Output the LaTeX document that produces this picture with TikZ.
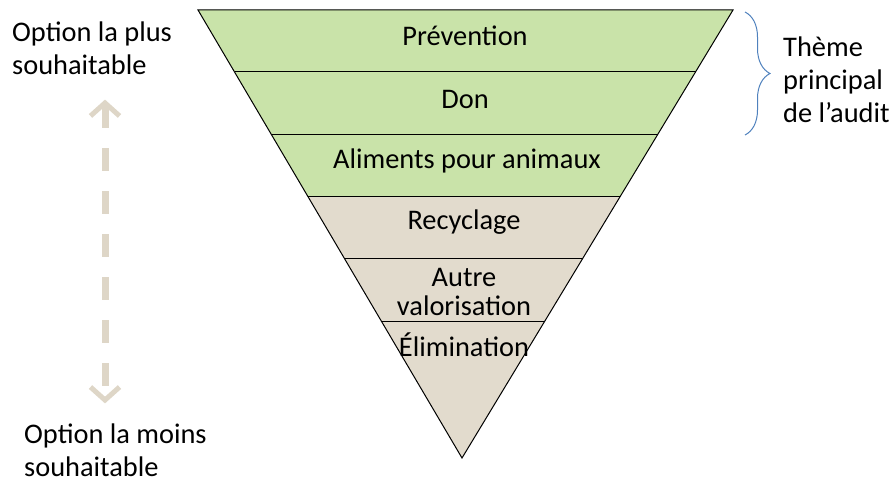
\documentclass[tikz,border=0pt]{standalone}
\usepackage{fontspec}
\setmainfont{Carlito}
\usetikzlibrary{arrows.meta,calc,decorations.pathreplacing}
\definecolor{topgreen}{HTML}{C9E3A9}
\definecolor{lowtan}{HTML}{E2DBCD}
\definecolor{arrtan}{HTML}{DED6C7}
\definecolor{braceblue}{HTML}{4F81BD}
\tikzset{
  lvl/.style={font=\fontsize{28.5}{30}\selectfont,align=center,inner sep=0pt},
  side/.style={font=\fontsize{28.5}{33}\selectfont,align=left,inner sep=0pt},
  rim/.style={draw=black,line width=1bp,line join=miter},
  pref/.style={draw=arrtan,line width=7bp,dash pattern=on 23bp off 20bp,
    {Straight Barb[length=13bp,width=29bp,line width=5bp]}-{Straight Barb[length=13bp,width=29bp,line width=5bp]}},
  brc/.style={draw=braceblue,line width=1bp,decorate,decoration={brace,amplitude=25bp}},
}

\begin{document}
\begin{tikzpicture}[x=1bp,y=-1bp]
  \useasboundingbox (0,0) rectangle (896,485);
  % inverted pyramid
  \coordinate (tl) at (198,10);
  \coordinate (tr) at (733,10);
  \coordinate (apex) at (462,458);
  \foreach \k/\t in {1/0.1384,2/0.2768,3/0.4174,4/0.5536,5/0.6942} {
    \coordinate (l\k) at ($(tl)!\t!(apex)$);
    \coordinate (r\k) at ($(tr)!\t!(apex)$);
  }
  \fill[topgreen] (tl)--(tr)--(r3)--(l3)--cycle;
  \fill[lowtan] (l3)--(r3)--(apex)--cycle;
  \foreach \k in {1,...,5} \draw[rim] (l\k)--(r\k);
  \draw[rim] (tl)--(tr)--(apex)--cycle;

  \node[lvl] (prev) at (465,36) {Prévention};
  \node[lvl] (don) at (465,99) {Don};
  \node[lvl] (alim) at (467,161) {Aliments pour animaux};
  \node[lvl] (recy) at (464,222) {Recyclage};
  \node[lvl] (autre) at (464,292) {Autre\\valorisation};
  \node[lvl] (elim) at (464,345) {Élimination};

  % left scale
  \node[side,anchor=west] (plus) at (12,48) {Option la plus\\souhaitable};
  \node[side,anchor=west] (moins) at (24,450) {Option la moins\\souhaitable};
  \draw[pref,shorten <=25bp,shorten >=20bp] ($(plus.south west)+(93,0)$) -- ($(moins.north west)+(81,0)$);

  % audit brace
  \node[side,anchor=west] (theme) at (783,80) {Thème\\principal\\de l’audit};
  \draw[brc] (745,12) -- (745,135);
\end{tikzpicture}
\end{document}
